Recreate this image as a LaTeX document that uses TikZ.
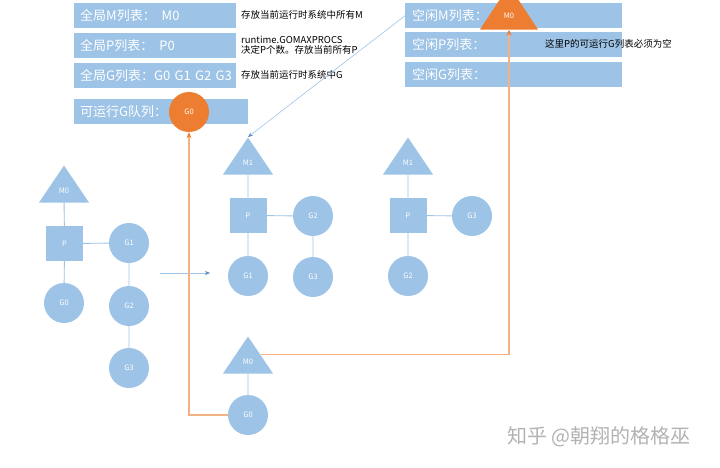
\documentclass[tikz,border=0pt]{standalone}
\usepackage{fontspec}
\setmainfont{Noto Sans CJK SC}
\usetikzlibrary{positioning,arrows.meta,calc,shapes.geometric}
\definecolor{sblue}{RGB}{157,195,230}
\definecolor{dblue}{RGB}{91,140,200}
\definecolor{sorange}{RGB}{237,125,49}
\definecolor{lorange}{RGB}{244,177,131}
\begin{document}
\begin{tikzpicture}[x=1pt,y=-1pt,
   bar/.style={rectangle,fill=sblue,text=white,font=\fontsize{13}{15}\selectfont,minimum height=25pt,inner xsep=6pt,inner ysep=0pt,align=left,anchor=north west},
   note/.style={font=\fontsize{9.5}{10.5}\selectfont,anchor=west,inner sep=0pt,align=left},
   gor/.style={circle,fill=sblue,text=white,font=\fontsize{7.5}{9}\selectfont,minimum size=40pt,inner sep=0pt},
   proc/.style={rectangle,fill=sblue,text=white,font=\fontsize{7.5}{9}\selectfont,minimum width=37pt,minimum height=35pt,inner sep=0pt},
   mac/.style={isosceles triangle,isosceles triangle stretches,shape border rotate=90,fill=sblue,text=white,font=\fontsize{7.5}{9}\selectfont,minimum width=50pt,minimum height=37pt,inner sep=0pt,anchor=apex},
   link/.style={draw=sblue,line width=0.9pt},
   mv/.style={draw=lorange,line width=1.2pt,-{Stealth[length=6pt,width=5pt,color=sorange]}}]
  \useasboundingbox (0,0) rectangle (720,468);
  \node[bar,text width=150pt] (gml) at (74,3)  {全局M列表：\hspace{6pt}M0};
  \node[bar,text width=150pt] (gpl) at (74,33) {全局P列表：\hspace{6pt}P0};
  \node[bar,text width=150pt] (ggl) at (74,63) {\mbox{全局G列表：G0 G1 G2 G3}};
  \node[bar,text width=162pt] (runq) at (74,99) {可运行G队列：};
  \node[note] (ngm) at (241,15) {存放当前运行时系统中所有M};
  \node[note] (ngp) at (241,45) {runtime.GOMAXPROCS\\决定P个数。存放当前所有P};
  \node[note] (ngg) at (241,75) {存放当前运行时系统中G};
  \node[bar,text width=203pt,inner xsep=7pt] (fml) at (405,3)  {空闲M列表：};
  \node[bar,text width=203pt,inner xsep=7pt] (fpl) at (405,32) {空闲P列表：};
  \node[bar,text width=203pt,inner xsep=7pt] (fgl) at (405,62) {空闲G列表：};
  \node[note] (nfp) at (545,44) {这里P的可运行G列表必须为空};
  \node[gor,fill=sorange] (rg0) at (189,112) {G0};
  \node[mac,fill=sorange,minimum width=58pt,minimum height=44pt] (fm0) at (509,-15) {M0};
  % running
  \node[mac] (m0a) at (64,165) {M0};
  \node[proc] (pa) at (64.5,243.5) {P};
  \node[gor] (g0a) at (64,303) {G0};
  \node[gor] (g1a) at (129,243) {G1};
  \node[gor] (g2a) at (129,306) {G2};
  \node[gor] (g3a) at (129,368) {G3};
  \draw[link] (m0a) -- (pa) (pa) -- (g0a) (pa) -- (g1a) (g1a) -- (g2a) (g2a) -- (g3a);
  \coordinate (ha) at (160,273);
  \coordinate (hb) at (210,273);
  \draw[link,-{Stealth[length=5pt,width=4pt,color=dblue]}] (ha) -- (hb);
  % after the syscall
  \node[mac] (m1b) at (248,137) {M1};
  \node[proc] (pb) at (248,215.5) {P};
  \node[gor] (g1b) at (248,276) {G1};
  \node[gor] (g2b) at (313,216) {G2};
  \node[gor] (g3b) at (313,277) {G3};
  \draw[link] (m1b) -- (pb) (pb) -- (g1b) (pb) -- (g2b) (g2b) -- (g3b);
  \node[mac] (m1c) at (408,137) {M1};
  \node[proc] (pc) at (408,215.5) {P};
  \node[gor] (g2c) at (408,276) {G2};
  \node[gor] (g3c) at (472,216) {G3};
  \draw[link] (m1c) -- (pc) (pc) -- (g2c) (pc) -- (g3c);
  \draw[link,line width=0.6pt,-{Stealth[length=5pt,width=4pt,color=dblue]}] (fml.west) -- (m1b.apex);
  \node[mac] (m0d) at (248,336) {M0};
  \node[gor] (g0d) at (248,415) {G0};
  \draw[link] (m0d) -- (g0d);
  \draw[mv] (g0d.west) -| (rg0.south);
  \draw[mv] ($(m0d.apex)!0.5!(m0d.right corner)$) -| (fm0.lower side);
  \node[anchor=west,text=black!30,font=\fontsize{20}{24}\selectfont,inner sep=0pt] (mark) at (507,437) {知乎 @朝翔的格格巫};
\end{tikzpicture}
\end{document}
